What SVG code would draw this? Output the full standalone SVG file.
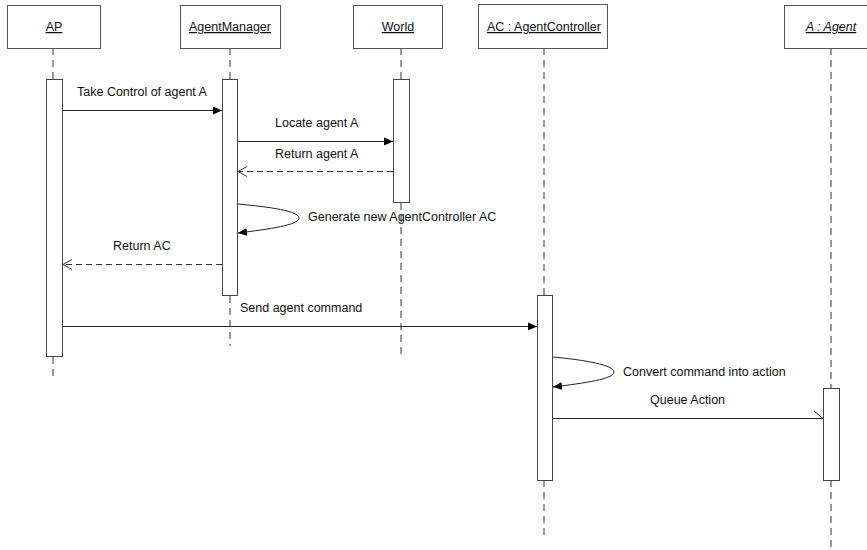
<svg xmlns="http://www.w3.org/2000/svg" width="867" height="550" viewBox="0 0 867 550">
<style>
.box{fill:#fff;stroke:#555;stroke-width:1}
.act{fill:#fff;stroke:#444;stroke-width:1}
.life{stroke:#333;stroke-width:1;stroke-dasharray:7,5;fill:none}
.msg{stroke:#222;stroke-width:1;fill:none}
.ret{stroke:#333;stroke-width:1;stroke-dasharray:6,4;fill:none}
text{font-family:"Liberation Sans",Arial,sans-serif;font-size:12.5px;fill:#111}
.hd{text-decoration:underline;text-anchor:middle}
</style>
<defs>
<marker id="fill" markerWidth="10" markerHeight="10" refX="9" refY="5" orient="auto" markerUnits="userSpaceOnUse">
<path d="M0,1 L9,5 L0,9 Z" fill="#000"/>
</marker>
<marker id="open" markerWidth="12" markerHeight="12" refX="10" refY="6" orient="auto" markerUnits="userSpaceOnUse">
<path d="M1,1 L10,6 L1,11" fill="none" stroke="#333" stroke-width="1"/>
</marker>
</defs>
<g id="lifelines">
<line class="life" x1="53" y1="48" x2="53" y2="79"/>
<line class="life" x1="53" y1="357" x2="53" y2="376"/>
<line class="life" x1="230" y1="48" x2="230" y2="79"/>
<line class="life" x1="230" y1="296" x2="230" y2="346"/>
<line class="life" x1="401" y1="48" x2="401" y2="79"/>
<line class="life" x1="401" y1="203" x2="401" y2="357"/>
<line class="life" x1="544" y1="48" x2="544" y2="295"/>
<line class="life" x1="544" y1="480" x2="544" y2="540"/>
<line class="life" x1="831" y1="48" x2="831" y2="388"/>
<line class="life" x1="831" y1="480" x2="831" y2="550"/>
</g>
<g id="AP">
<rect class="box" x="7.5" y="5.5" width="93" height="43"/>
<text class="hd" x="54" y="31">AP</text>
<rect class="act" x="46.5" y="79.5" width="16" height="277"/>
</g>
<g id="AgentManager">
<rect class="box" x="180.5" y="5.5" width="100" height="43"/>
<text class="hd" x="230" y="31">AgentManager</text>
<rect class="act" x="222.5" y="79.5" width="15" height="216"/>
</g>
<g id="World">
<rect class="box" x="353.5" y="5.5" width="89" height="43"/>
<text class="hd" x="398" y="31">World</text>
<rect class="act" x="393.5" y="79.5" width="16" height="123"/>
</g>
<g id="AC">
<rect class="box" x="478.5" y="4.5" width="129" height="44"/>
<text class="hd" x="544" y="31">AC : AgentController</text>
<rect class="act" x="537.5" y="295.5" width="15" height="185"/>
</g>
<g id="Agent">
<rect class="box" x="784.5" y="5.5" width="95" height="43"/>
<text class="hd" x="831" y="31" font-style="italic">A : Agent</text>
<rect class="act" x="823.5" y="388.5" width="16" height="92"/>
</g>
<g id="connectors">
<line class="msg" x1="63" y1="110.5" x2="222" y2="110.5" marker-end="url(#fill)"/>
<text x="77" y="96">Take Control of agent A</text>
<line class="msg" x1="238" y1="141.5" x2="393" y2="141.5" marker-end="url(#fill)"/>
<text x="275" y="127">Locate agent A</text>
<line class="ret" x1="393" y1="171.5" x2="238" y2="171.5" marker-end="url(#open)"/>
<text x="275" y="158">Return agent A</text>
<path class="msg" d="M238,204 C270,207 299,211 299,218 C299,225 270,229 238,233" marker-end="url(#fill)"/>
<text x="308" y="221">Generate new AgentController AC</text>
<line class="ret" x1="222" y1="264.5" x2="63" y2="264.5" marker-end="url(#open)"/>
<text x="113" y="250">Return AC</text>
<line class="msg" x1="63" y1="326.5" x2="537" y2="326.5" marker-end="url(#fill)"/>
<text x="240" y="312">Send agent command</text>
<path class="msg" d="M553,357 C585,360 614,365 614,372 C614,379 585,383 553,387" marker-end="url(#fill)"/>
<text x="623" y="376">Convert command into action</text>
<line class="msg" x1="553" y1="418.5" x2="823" y2="418.5"/>
<line class="msg" x1="814" y1="411" x2="823" y2="418.5"/>
<text x="650" y="404">Queue Action</text>
</g>
</svg>
